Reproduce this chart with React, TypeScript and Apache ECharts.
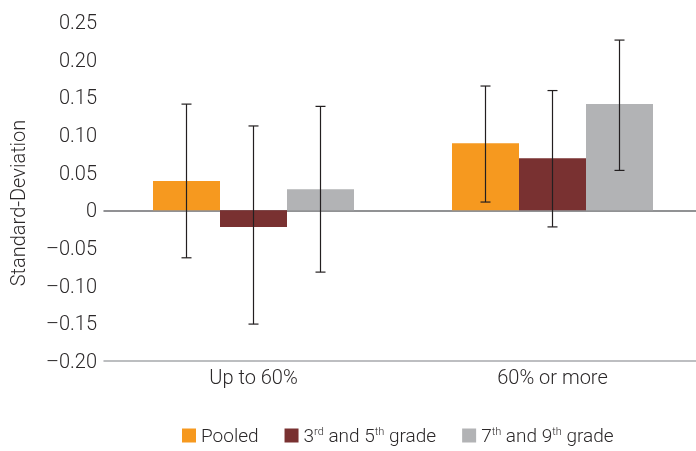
import React, { useEffect, useRef } from "react";
import * as echarts from "echarts";

const categories = ["Up to 60%", "60% or more"];
const seriesNames = ["Pooled", "3rd and 5th grade", "7th and 9th grade"];
const legendLabels = ["Pooled", "3{sup|rd} and 5{sup|th} grade", "7{sup|th} and 9{sup|th} grade"];
const colors = ["#f6991f", "#793131", "#b2b3b5"];

const pooled = [0.039, 0.089];
const grade35 = [-0.022, 0.069];
const grade79 = [0.028, 0.141];

// confidence intervals [low, high] per category
const pooledCI = [[-0.063, 0.141], [0.011, 0.165]];
const grade35CI = [[-0.151, 0.112], [-0.022, 0.159]];
const grade79CI = [[-0.082, 0.138], [0.053, 0.226]];

const values = [pooled, grade35, grade79];
const intervals = [pooledCI, grade35CI, grade79CI];

const BAR_WIDTH = 67;
const FONT = "Roboto, 'Liberation Sans', sans-serif";
const TEXT = "#2b2829";

export default function App() {
  const ref = useRef<HTMLDivElement>(null);

  useEffect(() => {
    if (!ref.current) return;
    const chart = echarts.init(ref.current, null, { renderer: "svg" });

    const barSeries = seriesNames.map((name, i) => ({
      name,
      type: "bar",
      data: values[i],
      barWidth: BAR_WIDTH,
      barGap: "0%",
      itemStyle: { color: colors[i] },
    }));

    const errorSeries = intervals.map((ci, i) => ({
      type: "custom",
      name: seriesNames[i] + " CI",
      data: ci.map((d, c) => [c, d[0], d[1]]),
      z: 10,
      renderItem: (params: any, api: any) => {
        const c = api.value(0);
        const lo = api.coord([c, api.value(1)]);
        const hi = api.coord([c, api.value(2)]);
        const x = lo[0] + (i - 1) * BAR_WIDTH;
        const cap = 5;
        const style = { stroke: "#231f20", lineWidth: 1.2 };
        return {
          type: "group",
          children: [
            { type: "line", shape: { x1: x, y1: hi[1], x2: x, y2: lo[1] }, style },
            { type: "line", shape: { x1: x - cap, y1: hi[1], x2: x + cap, y2: hi[1] }, style },
            { type: "line", shape: { x1: x - cap, y1: lo[1], x2: x + cap, y2: lo[1] }, style },
          ],
        };
      },
    }));

    chart.setOption({
      animation: false,
      textStyle: { fontFamily: FONT },
      grid: { left: 104, right: 0, top: 22, bottom: 90 },
      legend: {
        data: seriesNames,
        top: 426,
        left: 182,
        padding: 0,
        icon: "rect",
        itemWidth: 14,
        itemHeight: 14,
        itemGap: 26,
        formatter: (name: string) => legendLabels[seriesNames.indexOf(name)],
        textStyle: {
          fontSize: 19,
          fontWeight: 300,
          color: TEXT,
          fontFamily: FONT,
          rich: {
            sup: { fontSize: 11, fontWeight: 300, verticalAlign: "top", color: TEXT, fontFamily: FONT },
          },
        },
      },
      xAxis: [
        {
          type: "category",
          data: categories,
          axisLine: { onZero: false, lineStyle: { color: "#a7a9ac", width: 1.5 } },
          axisTick: { show: false },
          axisLabel: { fontSize: 20, fontWeight: 300, color: TEXT, margin: 6, fontFamily: FONT },
        },
        {
          type: "category",
          data: categories,
          position: "bottom",
          axisLine: { onZero: true, lineStyle: { color: "#6d6e71", width: 1.5 } },
          axisTick: { show: false },
          axisLabel: { show: false },
        },
      ],
      yAxis: {
        type: "value",
        min: -0.2,
        max: 0.25,
        interval: 0.05,
        name: "Standard-Deviation",
        nameLocation: "middle",
        nameGap: 76,
        nameTextStyle: {
          fontSize: 20,
          fontWeight: 300,
          color: TEXT,
          fontFamily: FONT,
          padding: [0, 23, 0, 0],
        },
        axisLine: { show: false },
        axisTick: { show: false },
        splitLine: { show: false },
        axisLabel: {
          fontSize: 20,
          fontWeight: 300,
          color: TEXT,
          margin: 7,
          fontFamily: FONT,
          formatter: (v: number) =>
            Math.abs(v) < 1e-9 ? "0" : v.toFixed(2).replace("-", "\u2013"),
        },
      },
      series: [...barSeries, ...errorSeries],
    });

    return () => chart.dispose();
  }, []);

  // the plot runs a few pixels past the right edge of the window
  return (
    <div
      ref={ref}
      style={{ position: "fixed", left: 0, top: 0, width: 702, height: 451 }}
    />
  );
}
